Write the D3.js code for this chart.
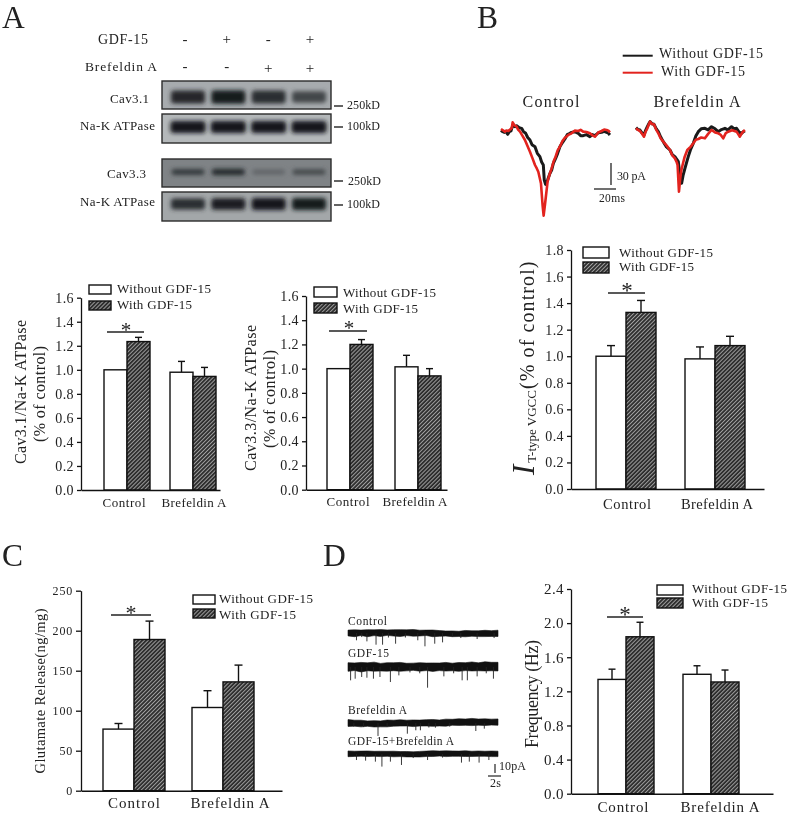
<!DOCTYPE html>
<html><head><meta charset="utf-8">
<style>
html,body{margin:0;padding:0;background:#fff}
svg{display:block;filter:blur(.4px)}
text{font-family:"Liberation Serif","Times New Roman",serif;fill:#222}
</style>
<script src="https://cdn.jsdelivr.net/npm/d3@7"></script>
</head><body>
<script>
// ---------- shared categories ----------
const categories = ["Control", "Brefeldin A"];
const seriesNames = ["Without GDF-15", "With GDF-15"];

// ---------- panel A, left ----------
const cav31Means = [[1.0, 1.235], [0.98, 0.945]];
const cav31Tops  = [[1.0, 1.27],  [1.07, 1.02]];
const cav31Ticks = [0, 0.2, 0.4, 0.6, 0.8, 1.0, 1.2, 1.4, 1.6];
// ---------- panel A, right ----------
const cav33Means = [[1.0, 1.2], [1.015, 0.94]];
const cav33Tops  = [[1.0, 1.24], [1.11, 1.0]];
const cav33Ticks = [0, 0.2, 0.4, 0.6, 0.8, 1.0, 1.2, 1.4, 1.6];
// ---------- panel B ----------
const ttypeMeans = [[1.0, 1.33], [0.98, 1.08]];
const ttypeTops  = [[1.08, 1.42], [1.07, 1.15]];
const ttypeTicks = [0, 0.2, 0.4, 0.6, 0.8, 1.0, 1.2, 1.4, 1.6, 1.8];
// ---------- panel C ----------
const gluMeans = [[77, 189], [104, 136]];
const gluTops  = [[84, 212], [125, 157]];
const gluTicks = [0, 50, 100, 150, 200, 250];
// ---------- panel D ----------
const freqMeans = [[1.34, 1.84], [1.40, 1.31]];
const freqTops  = [[1.46, 2.01], [1.50, 1.45]];
const freqTicks = [0, 0.4, 0.8, 1.2, 1.6, 2.0, 2.4];

// ---------- western blot ----------
const lanes = ["1", "2", "3", "4"];
const gdfSigns = ["-", "+", "-", "+"];
const brefSigns = ["-", "-", "+", "+"];
const blotCav31 = [0.86, 0.96, 0.82, 0.62];
const blotNaK1  = [1.0, 1.0, 1.0, 1.0];
const blotCav33 = [0.72, 0.85, 0.38, 0.6];
const blotNaK2  = [0.82, 0.95, 1.0, 0.96];

// ---------- current traces, [ms, pA] ----------
const ctrlWithout = [[0,.9],[1.5,-1],[3.1,-1.9],[4.5,-.5],[6.2,-4.6],[7.8,-1],[9.3,0],[10.4,5],[11.5,8.3],[13,6],[14.6,7.4],[17,4.5],[19.3,3.7],[21,-.8],[23.1,-3.2],[25,-9],[27.1,-12.5],[29,-19],[31.8,-21.8],[34,-31],[36.4,-35.6],[38,-43],[39.6,-47.2],[40.5,-68.1],[41.7,-74.1],[43.6,-68.1],[45.5,-60],[47.4,-54.2],[49,-45],[51.1,-38],[53,-31],[55.1,-21.8],[57.5,-16],[59.8,-11.1],[62,-5],[64,-3.5],[66,-1.9],[69,-1],[72.3,-3.2],[74.5,-6.5],[76.9,-6.5],[80,-5],[83.2,-7.9],[85.5,-5],[87.9,-6.5],[91,-2.5],[94.1,-1.9],[96.5,-.5],[98.8,-1.9],[100.5,-3],[101.9,-5.6]];
const ctrlWith = [[0,2.8],[1.8,1],[3.7,-.9],[5.2,.7],[6.9,0],[8.5,2],[10,3.7],[10.9,12],[12.5,8],[14.6,6],[16,2],[17.8,-.9],[20,-6.5],[22.4,-12.5],[24.8,-21],[27.1,-28.7],[29.5,-38],[31.8,-47.2],[33.5,-52],[34.9,-56.5],[36.2,-65],[37.4,-72.7],[38.9,-102.8],[39.9,-117.6],[41.1,-102.8],[43.6,-70.4],[45.5,-60],[47.4,-51.9],[49.3,-42],[51.1,-35.6],[53,-27],[55.1,-21.8],[57.5,-14],[59.8,-9.3],[63,-5.5],[66,-3.2],[69,.5],[72.3,0],[74.5,1.5],[76.9,-.9],[80,-1.5],[83.2,-3.2],[85.5,-6],[87.9,-7.9],[91,-2],[94.1,0],[96.5,2],[98.8,1.4],[100.5,.5],[101.9,-1.9]];
const brefWithout = [[0,4.6],[1.8,2],[3.7,1.4],[5.5,-2.5],[7.5,-5.6],[9,1],[10.6,6],[12,10],[13.1,13],[15,10],[16.8,9.3],[19,3],[20.9,-.9],[23,-8],[25.5,-14.8],[28.5,-22],[31.8,-26.4],[34,-33],[36.4,-35.6],[38,-39],[39.6,-42.6],[41.1,-61.1],[42.7,-72.7],[44,-62],[45.8,-51.9],[47.5,-43],[48.9,-35.6],[51,-26],[53.6,-17.1],[56,-7],[58.3,-.9],[61,3],[64.5,3.7],[67.5,1.5],[70.7,6],[74,3],[76.9,-.9],[80,2],[83.2,3.7],[86,1.5],[89.4,6],[92,3],[94.1,3.7],[96.5,-1.5],[98.8,-3.2],[100.5,-1],[101.9,0]];
const brefWith = [[0,3.7],[1.8,1.5],[3.7,0],[5.5,-3.5],[7.5,-7.9],[9,-1],[10.6,3.7],[12,9],[13.1,13],[15,9.5],[16.8,9.3],[19,1.5],[20.9,-3.2],[23,-10],[25.5,-14.8],[28.5,-20],[31.8,-26.4],[34,-34],[36.4,-38],[38,-43],[38.9,-47.2],[40.2,-84.3],[41.4,-65.7],[42.5,-54],[43.6,-47.2],[45.5,-36],[48,-26.4],[51,-22],[53.6,-17.1],[56,-12],[58.3,-11.1],[61,-9],[64.5,-10.2],[67.5,-4],[70.7,1.4],[74,-2],[76.9,-3.2],[79,-5],[81.6,-10.2],[84,-3],[86.3,-.9],[90,1],[94.1,-.9],[95.5,-4],[97.2,-7.9],[99.5,-2],[101.9,1.4]];

// ---------- mEPSC recordings, one centre and half-width per second; spikes [s, pA] ----------
const recCtrlCentre = [0,-.3,.2,-.2,.3,0,.4,.1,-.1,.3,.2,-.1,.2,-.4,-.5,-.6,-.9,-1,-.7,-.6,-.8,-.5,-.6,-.4];
const recCtrlHalf   = [3.2,3.8,3,3.9,3.2,3.8,3,3.5,3.8,3.2,3.7,3.2,3,3.7,3.2,2.8,3.2,2.9,3.5,3,3.2,3.5,3.2,3.5];
const recCtrlSpikes = [[1.3,8.1],[2.1,4.5],[2.9,9.3],[4.3,13],[5.3,13],[6.2,5],[7.3,11.9],[8.8,5],[10.7,8.1],[11.8,14.8],[13.3,11.9],[14.5,10.4],[16,4],[17.3,5.6],[19.8,6.7],[22.4,5.6]];
const recGdfCentre = [0,.3,-.2,.2,.4,-.2,.1,.3,.2,-.1,.3,.1,.2,-.2,.2,.3,0,.1,.4,.6,.2,.7,.5,.4];
const recGdfHalf   = [4.8,4.2,5.3,4.4,5,4.2,4.7,4.4,4.9,4.2,4,4.7,4.2,4.7,4.2,4.8,4.2,4.9,4.4,5,4.4,5.1,4.7,4.8];
const recGdfSpikes = [[.4,14.8],[1.1,13],[2.1,11.1],[2.9,11.9],[3.9,13],[4.9,11.1],[6.5,16.7],[7.8,9.3],[9.5,6],[11,7],[12.2,23],[14.7,10.4],[16.2,7],[17.5,14.8],[18.3,14.8],[19.8,10.4],[21.2,7],[22.3,13]];
const recBrefCentre = [0,-.2,-.6,-.7,-.9,-1,-.5,-.2,.1,-.1,-.3,-.1,.2,.1,0,.4,.8,1,.9,1.1,1,.9,1,1];
const recBrefHalf   = [3.8,3.3,3.7,3,3.5,3.3,3.8,3.3,3.5,3.2,3.7,3.3,3.5,3.8,3.3,3.9,3.3,3.7,3.5,4,3.4,3.7,3.3,3.5];
const recBrefSpikes = [[.9,4],[2.4,4.5],[4.6,14.4],[6,4],[9.1,11.9],[10.4,8.1],[11.1,8.1],[12.4,5],[13.4,5.2],[15.6,4],[19.6,8.9],[20.9,6.3]];
const recComboCentre = [.2,.2,.4,.3,.2,.1,.2,0,-.1,-.2,-.4,-.2,.2,.4,.5,.3,.4,.3,.4,.2,.4,.3,.2,.1];
const recComboHalf   = [3.2,2.9,2.8,3.1,2.8,3,2.8,3.1,2.8,3,2.8,3.1,3,3.2,2.8,3.2,3,2.9,3.2,2.9,3,2.8,3.1,3];
const recComboSpikes = [[1.3,6.7],[2.7,7.4],[4.2,8.5],[5.2,14],[6.5,8.5],[8.2,12.2],[10,4.5],[12.2,6.7],[14.5,4],[17.4,9.6],[18.6,8.5],[20.1,9.6],[21.6,6.7]];

// ---------- drawing ----------
const W = 787, H = 814;
const svg = d3.select("body").append("svg").attr("width", W).attr("height", H).attr("viewBox", [0,0,W,H]);
const defs = svg.append("defs");
const pat = defs.append("pattern").attr("id","hatch").attr("patternUnits","userSpaceOnUse")
  .attr("width",2.8).attr("height",2.8).attr("patternTransform","rotate(-45)");
pat.append("rect").attr("width",2.8).attr("height",2.8).attr("fill","#2e2e2e");
pat.append("rect").attr("width",2.8).attr("height",.95).attr("fill","#a0a0a0");
defs.append("filter").attr("id","bandBlur").attr("x","-30%").attr("y","-60%").attr("width","160%").attr("height","220%")
  .append("feGaussianBlur").attr("stdDeviation",1.9);

function label(sel, x, y, str, size, opt={}) {
  const t = sel.append("text").attr("x",x).attr("y",y).attr("font-size",size)
    .attr("text-anchor",opt.anchor||"start").text(str);
  if (opt.len) t.attr("textLength",opt.len).attr("lengthAdjust","spacing");
  if (opt.rot) t.attr("transform",`rotate(-90 ${x} ${y})`);
  return t;
}

function barPanel(c) {
  const g = svg.append("g");
  const y = d3.scaleLinear().domain([0,c.ticks[c.ticks.length-1]]).range([c.y0,c.yTop]);
  const group = d3.scaleBand().domain(categories).range([c.left,c.second+2*c.bw])
    .paddingInner(1-2*c.bw/(c.second-c.left)).paddingOuter(0);
  const inner = d3.scaleBand().domain(seriesNames).range([0,2*c.bw]);
  categories.forEach((cat,i)=>seriesNames.forEach((s,j)=>{
    const top = c.tops[i][j], mean = c.means[i][j];
    const cx = group(cat)+inner(s)+c.bw/2;
    if (top>mean) {
      g.append("line").attr("x1",cx).attr("x2",cx).attr("y1",y(mean)).attr("y2",y(top)).attr("stroke","#111").attr("stroke-width",1.4);
      g.append("line").attr("x1",cx-c.cap).attr("x2",cx+c.cap).attr("y1",y(top)).attr("y2",y(top)).attr("stroke","#111").attr("stroke-width",1.4);
    }
    g.append("rect").attr("x",group(cat)+inner(s)).attr("y",y(mean)).attr("width",c.bw).attr("height",c.y0-y(mean))
      .attr("fill",j?"url(#hatch)":"#fff").attr("stroke","#111").attr("stroke-width",1.4);
  }));
  const ya = d3.axisLeft(y).tickValues(c.ticks).tickSize(c.tick).tickPadding(3)
    .tickFormat(c.fmt||d3.format(".1f")).tickSizeOuter(0);
  const yg = g.append("g").attr("transform",`translate(${c.axisX},0)`).call(ya);
  yg.selectAll("text").attr("font-size",c.tickFont).style("letter-spacing",c.tickSpacing||"0.4px");
  yg.selectAll("path,line").attr("stroke","#111").attr("stroke-width",1.3);
  const xs = d3.scaleLinear().domain([0,1]).range([c.axisX,c.xEnd]);
  const xa = g.append("g").attr("transform",`translate(0,${c.y0})`).call(d3.axisBottom(xs).tickValues([]).tickSizeOuter(0));
  xa.selectAll("path").attr("stroke","#111").attr("stroke-width",1.4);
  categories.forEach((cat,i)=>label(g,c.labelX[i],c.labelY,cat,c.labelFont,{anchor:"middle",len:c.labelLen[i]}));
  seriesNames.forEach((s,j)=>{
    g.append("rect").attr("x",c.lg.x).attr("y",c.lg.ry[j]).attr("width",c.lg.w).attr("height",c.lg.h)
      .attr("fill",j?"url(#hatch)":"#fff").attr("stroke","#111").attr("stroke-width",1.4);
    label(g,c.lg.tx,c.lg.ty[j],s,c.lg.font,{len:c.lg.len[j]});
  });
  g.append("line").attr("x1",c.sig.x1).attr("x2",c.sig.x2).attr("y1",c.sig.y).attr("y2",c.sig.y).attr("stroke","#222").attr("stroke-width",1.4);
  label(g,c.sig.sx,c.sig.sy,"*",c.sig.size,{anchor:"middle"});
  return g;
}

const a1 = barPanel({means:cav31Means,tops:cav31Tops,ticks:cav31Ticks,y0:490,yTop:297.7,axisX:81,xEnd:220,left:104,second:170,bw:23,cap:3.5,tick:4,tickFont:14,
  labelX:[124,194],labelY:507,labelFont:13,labelLen:[43,65],
  lg:{x:89,ry:[285,301],w:22,h:9,tx:117,ty:[293,309],font:13,len:[94,75]},
  sig:{x1:107,x2:144,y:332,sx:126,sy:337,size:21}});
label(a1,26,392,"Cav3.1/Na-K ATPase",16,{anchor:"middle",rot:1,len:144});
label(a1,45,394,"(% of control)",16,{anchor:"middle",rot:1,len:96});

const a2 = barPanel({means:cav33Means,tops:cav33Tops,ticks:cav33Ticks,y0:489.7,yTop:296,axisX:306,xEnd:447,left:327,second:395,bw:23,cap:3.5,tick:4,tickFont:14,
  labelX:[348,415],labelY:506,labelFont:13,labelLen:[43,65],
  lg:{x:314,ry:[287,303],w:23,h:10,tx:343,ty:[297,313],font:13,len:[93,75]},
  sig:{x1:329,x2:367,y:331,sx:349,sy:335,size:21}});
label(a2,256,398,"Cav3.3/Na-K ATPase",16,{anchor:"middle",rot:1,len:146});
label(a2,275,399,"(% of control)",16,{anchor:"middle",rot:1,len:98});

const bp = barPanel({means:ttypeMeans,tops:ttypeTops,ticks:ttypeTicks,y0:489,yTop:250,axisX:571,xEnd:764,left:596,second:685,bw:30,cap:4,tick:4,tickFont:14,
  labelX:[627,717],labelY:509,labelFont:14.5,labelLen:[48,72],
  lg:{x:583,ry:[247,262],w:26,h:11,tx:619,ty:[257,271],font:13,len:[94,75]},
  sig:{x1:608,x2:645,y:293,sx:627,sy:298,size:23}});
const bt = bp.append("text").attr("transform","translate(534,475) rotate(-90)");
bt.append("tspan").attr("font-size",31).attr("font-style","italic").text("I");
bt.append("tspan").attr("font-size",13).attr("dx",2).attr("dy",2).text("T-type VGCC");
bt.append("tspan").attr("font-size",20).attr("dx",1).attr("dy",-2).style("letter-spacing","1.1px").text("(% of control)");

const cp = barPanel({means:gluMeans,tops:gluTops,ticks:gluTicks,fmt:d3.format("d"),y0:790.7,yTop:590.7,axisX:81,xEnd:282,left:103,second:192,bw:31,cap:4,tick:5,tickFont:12,tickSpacing:"0.8px",
  labelX:[134,230],labelY:808,labelFont:15,labelLen:[52,79],
  lg:{x:193,ry:[595,609],w:22,h:9,tx:219,ty:[603,619],font:13,len:[94,77]},
  sig:{x1:111,x2:151,y:615,sx:131,sy:620,size:22}});
label(cp,45,691,"Glutamate Release(ng/mg)",14.5,{anchor:"middle",rot:1,len:165});

const dp = barPanel({means:freqMeans,tops:freqTops,ticks:freqTicks,y0:793.7,yTop:589,axisX:571,xEnd:773,left:598,second:683,bw:28,cap:3.5,tick:4,tickFont:15,
  labelX:[623,720],labelY:812,labelFont:15,labelLen:[51,79],
  lg:{x:657,ry:[585,598],w:26,h:10,tx:692,ty:[593,607],font:13,len:[95,76]},
  sig:{x1:607,x2:643,y:617,sx:625,sy:622,size:23}});
label(dp,538,694,"Frequency (Hz)",18,{anchor:"middle",rot:1,len:108});

// panel letters
[["A",2,28],["B",477,28],["C",2,566],["D",323,566]].forEach(([s,x,y])=>label(svg,x,y,s,31.5));

// ---------- western blots ----------
const gA = svg.append("g");
const laneX = d3.scalePoint().domain(lanes).range([188,309]);
const signX = d3.scalePoint().domain(lanes).range([185,310]);
lanes.forEach((l,i)=>{
  label(gA,signX(l),44,gdfSigns[i],15,{anchor:"middle"});
  label(gA,signX(l),brefSigns[i]==="+"?73:71,brefSigns[i],15,{anchor:"middle"});
});
label(gA,98,44,"GDF-15",14,{len:50});
label(gA,85,71,"Brefeldin A",13.5,{len:72});
const shade = d3.scaleLinear().domain([0,1]).range(["#8f9396","#14171a"]);
function blot(vals,y0,y1,bg,cy,bw,bh,name,nameX,nameY,nameLen,kd,tickY,kdX,kdY) {
  const id = "clip"+y0;
  defs.append("clipPath").attr("id",id).append("rect").attr("x",162).attr("y",y0).attr("width",169).attr("height",y1-y0);
  gA.append("rect").attr("x",162).attr("y",y0).attr("width",169).attr("height",y1-y0).attr("fill",bg);
  const bands = gA.append("g").attr("clip-path",`url(#${id})`).append("g").attr("filter","url(#bandBlur)");
  lanes.forEach((l,i)=>{
    const h = bh*(0.55+0.45*vals[i]);
    bands.append("rect").attr("x",laneX(l)-bw/2).attr("y",cy-h/2).attr("width",bw).attr("height",h).attr("rx",3)
      .attr("fill",shade(vals[i]));
  });
  gA.append("rect").attr("x",162).attr("y",y0).attr("width",169).attr("height",y1-y0).attr("fill","none").attr("stroke","#2b2b2b").attr("stroke-width",1.4);
  label(gA,nameX,nameY,name,13,{len:nameLen});
  gA.append("line").attr("x1",334).attr("x2",343).attr("y1",tickY).attr("y2",tickY).attr("stroke","#222").attr("stroke-width",1.4);
  label(gA,kdX,kdY,kd,12,{len:33});
}
blot(blotCav31,81,109,"#a7abae",97,34,14,"Cav3.1",110,103,39,"250kD",106,347,109);
blot(blotNaK1,114,143,"#b4b8ba",127,35,12,"Na-K ATPase",80,130,75,"100kD",127,347,130);
blot(blotCav33,159,187,"#7f8386",172,33,7,"Cav3.3",107,178,39,"250kD",181,348,185);
blot(blotNaK2,192,221,"#a3a7a9",204,34,12,"Na-K ATPase",80,206,75,"100kD",205,347,208);

// ---------- panel B traces ----------
const gB = svg.append("g");
const tX = ox => d3.scaleLinear().domain([0,102]).range([ox,ox+109]);
const tY = d3.scaleLinear().domain([0,-30]).range([131,152.6]);
function traces(ox, black, red) {
  const x = tX(ox);
  const ln = d3.line().x(d=>x(d[0])).y(d=>tY(d[1]));
  gB.append("path").attr("d",ln(black)).attr("fill","none").attr("stroke","#1a1a1a").attr("stroke-width",3).attr("stroke-linejoin","round");
  gB.append("path").attr("d",ln(red)).attr("fill","none").attr("stroke","#e2231e").attr("stroke-width",2.6).attr("stroke-linejoin","round");
}
traces(501,ctrlWithout,ctrlWith);
traces(636,brefWithout,brefWith);
gB.append("line").attr("x1",622.7).attr("x2",652.7).attr("y1",55.7).attr("y2",55.7).attr("stroke","#1a1a1a").attr("stroke-width",2);
gB.append("line").attr("x1",622.7).attr("x2",652.7).attr("y1",72.7).attr("y2",72.7).attr("stroke","#e2231e").attr("stroke-width",2);
label(gB,659,58,seriesNames[0],14,{len:104});
label(gB,661,76,seriesNames[1],14,{len:84});
label(gB,551,107,categories[0],16,{anchor:"middle",len:57});
label(gB,697,107,categories[1],16,{anchor:"middle",len:87});
gB.append("line").attr("x1",611).attr("x2",611).attr("y1",163).attr("y2",185).attr("stroke","#222").attr("stroke-width",1.3);
gB.append("line").attr("x1",594).attr("x2",616).attr("y1",189).attr("y2",189).attr("stroke","#222").attr("stroke-width",1.3);
label(gB,617,180,"30 pA",12,{len:29});
label(gB,599,202,"20ms",11.5,{len:26});

// ---------- panel D recordings ----------
const gD = svg.append("g");
const rX = d3.scaleLinear().domain([0,23]).range([348,498]);
const rScale = d3.scaleLinear().domain([0,10]).range([0,9]);
function recording(name,labelY,labelLen,cy,centre,half,spikes) {
  label(gD,348,labelY,name,11.5,{len:labelLen});
  const area = d3.area().x((d,i)=>rX(i)).y0((d,i)=>cy-rScale(d)+rScale(half[i])).y1((d,i)=>cy-rScale(d)-rScale(half[i]));
  gD.append("path").attr("d",area(centre)).attr("fill","#111").attr("stroke","#111").attr("stroke-width",.6);
  spikes.forEach(([s,a])=>gD.append("line").attr("x1",rX(s)).attr("x2",rX(s)).attr("y1",cy).attr("y2",cy+rScale(a)).attr("stroke","#222").attr("stroke-width",.9));
}
recording("Control",625,39,633,recCtrlCentre,recCtrlHalf,recCtrlSpikes);
recording("GDF-15",657,41,667,recGdfCentre,recGdfHalf,recGdfSpikes);
recording("Brefeldin A",714,59,723,recBrefCentre,recBrefHalf,recBrefSpikes);
recording("GDF-15+Brefeldin A",745,106,754,recComboCentre,recComboHalf,recComboSpikes);
gD.append("line").attr("x1",495).attr("x2",495).attr("y1",764).attr("y2",773).attr("stroke","#222").attr("stroke-width",1.2);
gD.append("line").attr("x1",488).attr("x2",501).attr("y1",776).attr("y2",776).attr("stroke","#222").attr("stroke-width",1.2);
label(gD,499,770,"10pA",12,{len:27});
label(gD,490,787,"2s",12,{len:11});
</script>
</body></html>
